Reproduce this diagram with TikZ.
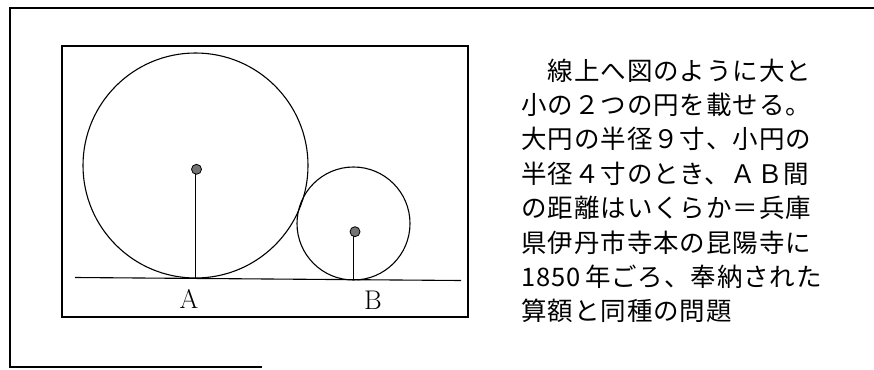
\documentclass[tikz,border=0pt]{standalone}
\usepackage{fontspec}
\newfontfamily\jpfont[LetterSpace=3.5]{Noto Sans CJK JP}
\tikzset{
	jpline/.style={anchor=base west, inner sep=0pt, font=\jpfont\fontsize{25.5}{25.5}\selectfont},
	ptlabel/.style={inner sep=0pt, font=\fontsize{27}{27}\selectfont},
	centerdot/.style={draw=black, fill=black!55, line width=0.8pt}
}
\begin{document}
\begin{tikzpicture}[x=1pt, y=-1pt, line width=1.1pt]
	\useasboundingbox (0,0) rectangle (874,369);
	% outer frame (open at the right)
	\draw[line width=1.3pt] (874,8) -- (10,8) -- (10,367) -- (262,367);
	% figure box
	\draw[line width=1.3pt] (62,46) rectangle (468,317);
	
	\coordinate (O1) at (195.5,165.5);
	\coordinate (O2) at (353.5,223.5);
	\coordinate (A) at (195,278);
	\coordinate (B) at (353.5,280);
	\coordinate (gl) at (75,277.5);
	\coordinate (gr) at (461,280.5);
	
	\draw (gl) -- (gr);
	\draw (O1) circle (112.5pt);
	\draw (O2) circle (56.5pt);
	
	\coordinate (D1) at (196.5,169.3);
	\coordinate (D2) at (355,231.7);
	\draw[line width=1pt] (D1) ++(-1.5,0) -- (A);
	\draw[line width=1pt] (D2) ++(-1.5,0) -- (B);
	\fill[centerdot] (D1) circle (5pt);
	\fill[centerdot] (D2) circle (5pt);
	
	\node[ptlabel] (labA) at (189,299) {A};
	\node[ptlabel] (labB) at (373,300) {B};
	
	% problem text
	\foreach \txt [count=\i] in {　線上へ図のように大と, 小の２つの円を載せる。, 大円の半径９寸、小円の, 半径４寸のとき、ＡＢ間, の距離はいくらか＝兵庫, 県伊丹市寺本の昆陽寺に, {1850\,年ごろ、奉納された}, 算額と同種の問題}
		\node[jpline] (line\i) at (521,{80+(\i-1)*34.4}) {\txt};
\end{tikzpicture}
\end{document}
